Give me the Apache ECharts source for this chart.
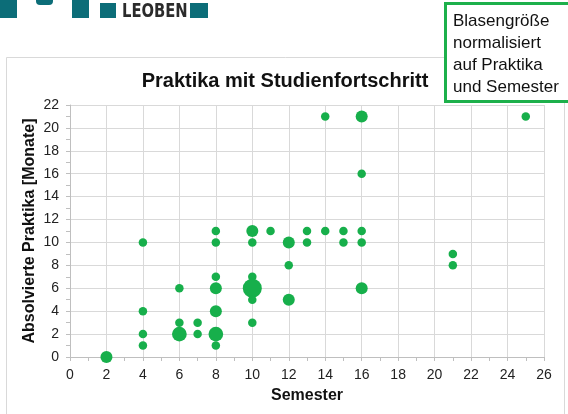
<!DOCTYPE html>
<html lang="de">
<head>
<meta charset="UTF-8">
<title>Praktika mit Studienfortschritt</title>
<script src="https://cdn.jsdelivr.net/npm/echarts@6/dist/echarts.min.js"></script>
<style>
html, body { margin: 0; padding: 0; background: #fff; }
#chart { width: 568px; height: 414px; }
</style>
</head>
<body>
<div id="chart"></div>
<script>
// Daten: Semester, absolvierte Praktika (Monate), Anzahl Studierende (Blasengröße)
const semester = [2, 4, 4, 4, 4, 6, 6, 6, 7, 7, 8, 8, 8, 8, 8, 8, 8, 10, 10, 10, 10, 10, 10, 11, 12, 12, 12, 13, 13, 14, 14, 15, 15, 16, 16, 16, 16, 16, 21, 21, 25];
const monate   = [0, 10, 4, 2, 1, 6, 3, 2, 3, 2, 11, 10, 7, 6, 4, 2, 1, 11, 10, 7, 6, 5, 3, 11, 10, 8, 5, 11, 10, 21, 11, 11, 10, 21, 16, 11, 10, 6, 9, 8, 21];
const anzahl   = [2, 1, 1, 1, 1, 1, 1, 3, 1, 1, 1, 1, 1, 2, 2, 3, 1, 2, 1, 1, 5, 1, 1, 1, 2, 1, 2, 1, 1, 1, 1, 1, 1, 2, 1, 1, 1, 2, 1, 1, 1];
const xTicks = [0, 26, 2];
const yTicks = [0, 22, 2];

const green = '#17AF4B';
const teal = '#0C6D78';
const font = "'Liberation Sans', Arial, sans-serif";

const chart = echarts.init(document.getElementById('chart'));
const points = semester.map((s, i) => [s, monate[i], anzahl[i]]);

chart.setOption({
  animation: false,
  backgroundColor: '#fff',
  textStyle: { fontFamily: font },
  title: {
    text: 'Praktika mit Studienfortschritt',
    left: 280,
    textAlign: 'center',
    top: 66,
    textStyle: { fontSize: 20, fontWeight: 'bold', color: '#111', fontFamily: font }
  },
  grid: { left: 70, right: 24, top: 105, bottom: 57 },
  xAxis: {
    type: 'value',
    min: xTicks[0], max: xTicks[1], interval: xTicks[2],
    name: 'Semester',
    nameLocation: 'middle',
    nameGap: 31,
    nameMoveOverlap: false,
    nameTextStyle: { fontSize: 16, fontWeight: 'bold', color: '#111' },
    axisLine: { show: true, lineStyle: { color: '#bfbfbf' } },
    axisTick: { show: true, length: 4, lineStyle: { color: '#bfbfbf' } },
    minorTick: { show: true, splitNumber: 2, length: 4, lineStyle: { color: '#bfbfbf' } },
    axisLabel: { fontSize: 14, color: '#222', margin: 11 },
    splitLine: { show: true, lineStyle: { color: '#d9d9d9', width: 1 } }
  },
  yAxis: {
    type: 'value',
    min: yTicks[0], max: yTicks[1], interval: yTicks[2],
    name: 'Absolvierte Praktika [Monate]',
    nameLocation: 'middle',
    nameGap: 32,
    nameMoveOverlap: false,
    nameTextStyle: { fontSize: 16, fontWeight: 'bold', color: '#111' },
    axisLine: { show: true, lineStyle: { color: '#bfbfbf' } },
    axisTick: { show: true, length: 4, lineStyle: { color: '#bfbfbf' } },
    minorTick: { show: true, splitNumber: 2, length: 4, lineStyle: { color: '#bfbfbf' } },
    axisLabel: { fontSize: 14, color: '#222', margin: 11 },
    splitLine: { show: true, lineStyle: { color: '#d9d9d9', width: 1 } }
  },
  series: [{
    type: 'scatter',
    data: points,
    symbolSize: d => 8.5 * Math.sqrt(d[2]),
    itemStyle: { color: green, opacity: 1 }
  }],
  graphic: [
    // Rahmen des Diagrammbereichs
    { type: 'rect', shape: { x: 6.5, y: 57.5, width: 558, height: 380 }, style: { fill: 'none', stroke: '#d9d9d9', lineWidth: 1 }, z: -1 },
    // Logo oben links
    { type: 'rect', shape: { x: 0, y: 0, width: 17, height: 18 }, style: { fill: teal } },
    { type: 'rect', shape: { x: 36, y: -6, width: 17, height: 11, r: 4 }, style: { fill: teal } },
    { type: 'rect', shape: { x: 72, y: 0, width: 17, height: 18 }, style: { fill: teal } },
    { type: 'rect', shape: { x: 100, y: 3, width: 16, height: 15 }, style: { fill: teal } },
    { type: 'text', x: 122, y: 2, scaleX: 0.82, style: { text: 'LEOBEN', font: "bold 20px 'DejaVu Sans Condensed', sans-serif", fill: '#2b2b2b' } },
    { type: 'rect', shape: { x: 190, y: 3, width: 18, height: 15 }, style: { fill: teal } },
    // Hinweisbox
    { type: 'rect', shape: { x: 445.5, y: 3.5, width: 130, height: 98 }, style: { fill: '#fff', stroke: '#1DB04B', lineWidth: 3 }, z: 10 },
    { type: 'text', x: 453, y: 10, z: 11, style: { text: 'Blasengröße\nnormalisiert\nauf Praktika\nund Semester', font: "17px 'Liberation Sans', Arial, sans-serif", fill: '#111', lineHeight: 22 } }
  ]
});
</script>
</body>
</html>
